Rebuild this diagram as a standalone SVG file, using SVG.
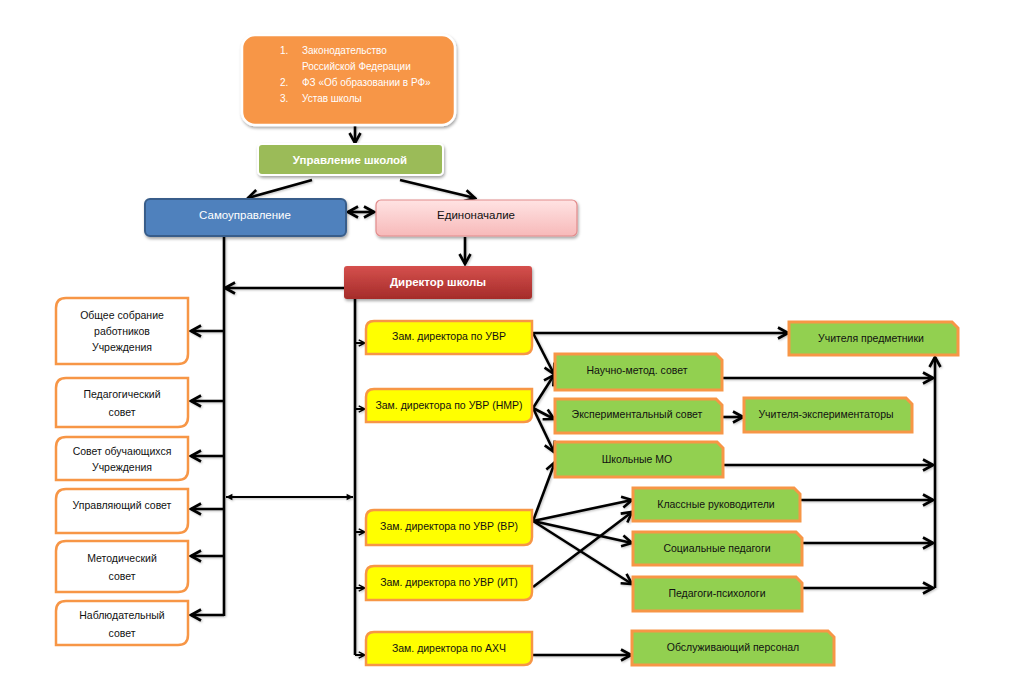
<svg xmlns="http://www.w3.org/2000/svg" width="1024" height="693" viewBox="0 0 1024 693">
<defs>
<style>
text{font-family:"Liberation Sans","Open Sans",sans-serif;font-size:10.5px;fill:#111;text-anchor:middle}
.w{fill:#fff}
.b{font-weight:bold}
.lst{text-anchor:start;fill:#fff;font-size:10px}
.ln{fill:none;stroke:#000;stroke-width:2.6}
.lnt{fill:none;stroke:#000;stroke-width:2}
.wb{fill:#fff;stroke:#F79646;stroke-width:2.5}
.yb{fill:#FFFF00;stroke:#F79646;stroke-width:2.5}
.gb{fill:#92D050;stroke:#F79646;stroke-width:3}
</style>
<marker id="a" viewBox="0 0 14 14" refX="12" refY="7" markerWidth="14" markerHeight="14" markerUnits="userSpaceOnUse" orient="auto-start-reverse">
<path d="M2,1.5 L12,7 L2,12.5" fill="none" stroke="#000" stroke-width="2.6"/>
</marker>
<marker id="s" viewBox="0 0 10 10" refX="9" refY="5" markerWidth="9" markerHeight="9" markerUnits="userSpaceOnUse" orient="auto-start-reverse">
<path d="M2,1.5 L9,5 L2,8.5" fill="none" stroke="#000" stroke-width="1.6"/>
</marker>
<marker id="t" viewBox="0 0 10 10" refX="9" refY="5" markerWidth="8" markerHeight="8" markerUnits="userSpaceOnUse" orient="auto-start-reverse">
<path d="M1,1 L9,5 L1,9 Z" fill="#000"/>
</marker>
<linearGradient id="red" x1="0" y1="0" x2="0" y2="1">
<stop offset="0" stop-color="#D5504D"/><stop offset="1" stop-color="#A52C2A"/>
</linearGradient>
<linearGradient id="pink" x1="0" y1="0" x2="0" y2="1">
<stop offset="0" stop-color="#FFE3E3"/><stop offset="1" stop-color="#F7B9B9"/>
</linearGradient>
<filter id="sh" x="-10%" y="-10%" width="130%" height="140%">
<feDropShadow dx="1" dy="2" stdDeviation="1.5" flood-color="#000" flood-opacity="0.35"/>
</filter>
<filter id="lsh" x="-5%" y="-5%" width="110%" height="110%">
<feDropShadow dx="1" dy="1" stdDeviation="0.8" flood-color="#000" flood-opacity="0.25"/>
</filter>
</defs>

<g id="connectors" filter="url(#lsh)">
<line class="ln" x1="355" y1="126" x2="355" y2="143" marker-end="url(#a)"/>
<line class="ln" x1="312" y1="180" x2="248" y2="198" marker-end="url(#a)"/>
<line class="ln" x1="400" y1="180" x2="475" y2="198" marker-end="url(#a)"/>
<line class="ln" x1="348" y1="212" x2="374" y2="212" marker-start="url(#a)" marker-end="url(#a)"/>
<line class="ln" x1="465" y1="237" x2="465" y2="264" marker-end="url(#a)"/>
<line class="ln" x1="224" y1="237" x2="224" y2="616"/>
<line class="ln" x1="344" y1="288" x2="225" y2="288" marker-end="url(#a)"/>
<line class="ln" x1="224" y1="331" x2="191" y2="331" marker-end="url(#a)"/>
<line class="ln" x1="224" y1="401" x2="191" y2="401" marker-end="url(#a)"/>
<line class="ln" x1="224" y1="456" x2="191" y2="456" marker-end="url(#a)"/>
<line class="ln" x1="224" y1="509" x2="191" y2="509" marker-end="url(#a)"/>
<line class="ln" x1="224" y1="556" x2="191" y2="556" marker-end="url(#a)"/>
<line class="ln" x1="224" y1="615" x2="191" y2="615" marker-end="url(#a)"/>
<line class="lnt" x1="226" y1="497" x2="353" y2="497" marker-start="url(#t)" marker-end="url(#t)"/>
<line class="ln" x1="355" y1="299" x2="355" y2="655"/>
<line class="lnt" x1="355" y1="343" x2="365" y2="343" marker-end="url(#s)"/>
<line class="lnt" x1="355" y1="409" x2="365" y2="409" marker-end="url(#s)"/>
<line class="lnt" x1="355" y1="532" x2="365" y2="532" marker-end="url(#s)"/>
<line class="lnt" x1="355" y1="588" x2="365" y2="588" marker-end="url(#s)"/>
<line class="lnt" x1="355" y1="655" x2="365" y2="655" marker-end="url(#s)"/>
<polyline class="ln" points="533,333 788,333" marker-end="url(#a)"/>
<line class="ln" x1="533" y1="333" x2="554" y2="374" marker-end="url(#a)"/>
<line class="ln" x1="533" y1="408" x2="554" y2="375" marker-end="url(#a)"/>
<line class="ln" x1="533" y1="408" x2="554" y2="419" marker-end="url(#a)"/>
<line class="ln" x1="533" y1="408" x2="554" y2="452" marker-end="url(#a)"/>
<line class="ln" x1="533" y1="521" x2="555" y2="462" marker-end="url(#a)"/>
<line class="ln" x1="533" y1="521" x2="632" y2="500" marker-end="url(#a)"/>
<line class="ln" x1="533" y1="521" x2="632" y2="543" marker-end="url(#a)"/>
<line class="ln" x1="533" y1="521" x2="632" y2="584" marker-end="url(#a)"/>
<line class="ln" x1="533" y1="587" x2="632" y2="512" marker-end="url(#a)"/>
<line class="ln" x1="533" y1="655" x2="631" y2="655" marker-end="url(#a)"/>
<line class="ln" x1="723" y1="417" x2="743" y2="417" marker-end="url(#a)"/>
<line class="ln" x1="723" y1="378" x2="933" y2="378" marker-end="url(#a)"/>
<line class="ln" x1="724" y1="465" x2="933" y2="465" marker-end="url(#a)"/>
<line class="ln" x1="801" y1="500" x2="933" y2="500" marker-end="url(#a)"/>
<line class="ln" x1="803" y1="543" x2="933" y2="543" marker-end="url(#a)"/>
<line class="ln" x1="803" y1="588" x2="933" y2="588" marker-end="url(#a)"/>
<line class="ln" x1="935" y1="588" x2="935" y2="357" marker-end="url(#a)"/>
</g>

<g id="n-laws">
<rect x="242" y="35" width="213" height="90" rx="13" fill="#F79646" stroke="#fff" stroke-width="2.5" filter="url(#sh)"/>
<text class="lst" x="280" y="54">1.</text><text class="lst" x="302" y="54">Законодательство</text>
<text class="lst" x="302" y="70">Российской Федерации</text>
<text class="lst" x="280" y="86">2.</text><text class="lst" x="302" y="86">ФЗ «Об образовании в РФ»</text>
<text class="lst" x="280" y="102">3.</text><text class="lst" x="302" y="102">Устав школы</text>
</g>

<g id="n-mgmt">
<rect x="258" y="144" width="185" height="31" rx="4" fill="#9BBB59" stroke="#fff" stroke-width="2" filter="url(#sh)"/>
<text class="w b" x="350" y="164" style="font-size:11.5px">Управление школой</text>
</g>

<g id="n-self">
<rect x="145" y="199" width="201" height="37" rx="5" fill="#4F81BD" stroke="#385D8A" stroke-width="2" filter="url(#sh)"/>
<text class="w" x="245" y="219" style="font-size:11.5px">Самоуправление</text>
</g>

<g id="n-one">
<rect x="376" y="200" width="201" height="36" rx="5" fill="url(#pink)" stroke="#E28C8C" stroke-width="1.2" filter="url(#sh)"/>
<text x="476" y="219" style="font-size:11.5px">Единоначалие</text>
</g>

<g id="n-dir">
<rect x="344" y="266" width="188" height="33" rx="3" fill="url(#red)" filter="url(#sh)"/>
<text class="w b" x="438" y="286" style="font-size:11.5px">Директор школы</text>
</g>

<g id="n-l1">
<path class="wb" d="M66,298 H188 V354 Q188,364 178,364 H56 V308 Q56,298 66,298 Z"/>
<text x="122" y="319">Общее собрание</text><text x="122" y="335">работников</text><text x="122" y="351">Учреждения</text>
</g>
<g id="n-l2">
<path class="wb" d="M66,378 H188 V417 Q188,427 178,427 H56 V388 Q56,378 66,378 Z"/>
<text x="122" y="398">Педагогический</text><text x="122" y="416">совет</text>
</g>
<g id="n-l3">
<path class="wb" d="M66,437 H188 V470 Q188,480 178,480 H56 V447 Q56,437 66,437 Z"/>
<text x="122" y="455">Совет обучающихся</text><text x="122" y="471">Учреждения</text>
</g>
<g id="n-l4">
<path class="wb" d="M66,489 H188 V523 Q188,533 178,533 H56 V499 Q56,489 66,489 Z"/>
<text x="122" y="509">Управляющий совет</text>
</g>
<g id="n-l5">
<path class="wb" d="M66,541 H188 V582 Q188,592 178,592 H56 V551 Q56,541 66,541 Z"/>
<text x="122" y="562">Методический</text><text x="122" y="580">совет</text>
</g>
<g id="n-l6">
<path class="wb" d="M66,601 H188 V635 Q188,645 178,645 H56 V611 Q56,601 66,601 Z"/>
<text x="122" y="619">Наблюдательный</text><text x="122" y="637">совет</text>
</g>

<g id="n-z1">
<path class="yb" d="M374,321 H532 V346 Q532,354 524,354 H366 V329 Q366,321 374,321 Z"/>
<text x="449" y="340">Зам. директора по УВР</text>
</g>
<g id="n-z2">
<path class="yb" d="M374,389 H532 V414 Q532,422 524,422 H366 V397 Q366,389 374,389 Z"/>
<text x="449" y="409">Зам. директора по УВР (НМР)</text>
</g>
<g id="n-z3">
<path class="yb" d="M374,510 H532 V537 Q532,545 524,545 H366 V518 Q366,510 374,510 Z"/>
<text x="449" y="530">Зам. директора по УВР (ВР)</text>
</g>
<g id="n-z4">
<path class="yb" d="M374,566 H532 V592 Q532,600 524,600 H366 V574 Q366,566 374,566 Z"/>
<text x="449" y="586">Зам. директора по УВР (ИТ)</text>
</g>
<g id="n-z5">
<path class="yb" d="M374,632 H532 V657 Q532,665 524,665 H366 V640 Q366,632 374,632 Z"/>
<text x="449" y="652">Зам. директора по АХЧ</text>
</g>

<g id="n-g1">
<path class="gb" d="M789,322 H952 L958,328 V355 H789 Z"/>
<text x="871" y="342">Учителя предметники</text>
</g>
<g id="n-g2">
<path class="gb" d="M555,354 H716 L722,360 V390 H555 Z"/>
<text x="637" y="374">Научно-метод. совет</text>
</g>
<g id="n-g3">
<path class="gb" d="M555,399 H716 L722,405 V433 H555 Z"/>
<text x="637" y="418">Экспериментальный совет</text>
</g>
<g id="n-g4">
<path class="gb" d="M744,398 H906 L912,404 V432 H744 Z"/>
<text x="826" y="418">Учителя-экспериментаторы</text>
</g>
<g id="n-g5">
<path class="gb" d="M555,442 H717 L723,448 V477 H555 Z"/>
<text x="637" y="463">Школьные МО</text>
</g>
<g id="n-g6">
<path class="gb" d="M633,488 H794 L800,494 V521 H633 Z"/>
<text x="716" y="508">Классные руководители</text>
</g>
<g id="n-g7">
<path class="gb" d="M633,532 H796 L802,538 V565 H633 Z"/>
<text x="717" y="552">Социальные педагоги</text>
</g>
<g id="n-g8">
<path class="gb" d="M633,577 H796 L802,583 V611 H633 Z"/>
<text x="717" y="597">Педагоги-психологи</text>
</g>
<g id="n-g9">
<path class="gb" d="M632,631 H828 L834,637 V665 H632 Z"/>
<text x="733" y="651">Обслуживающий персонал</text>
</g>
</svg>
